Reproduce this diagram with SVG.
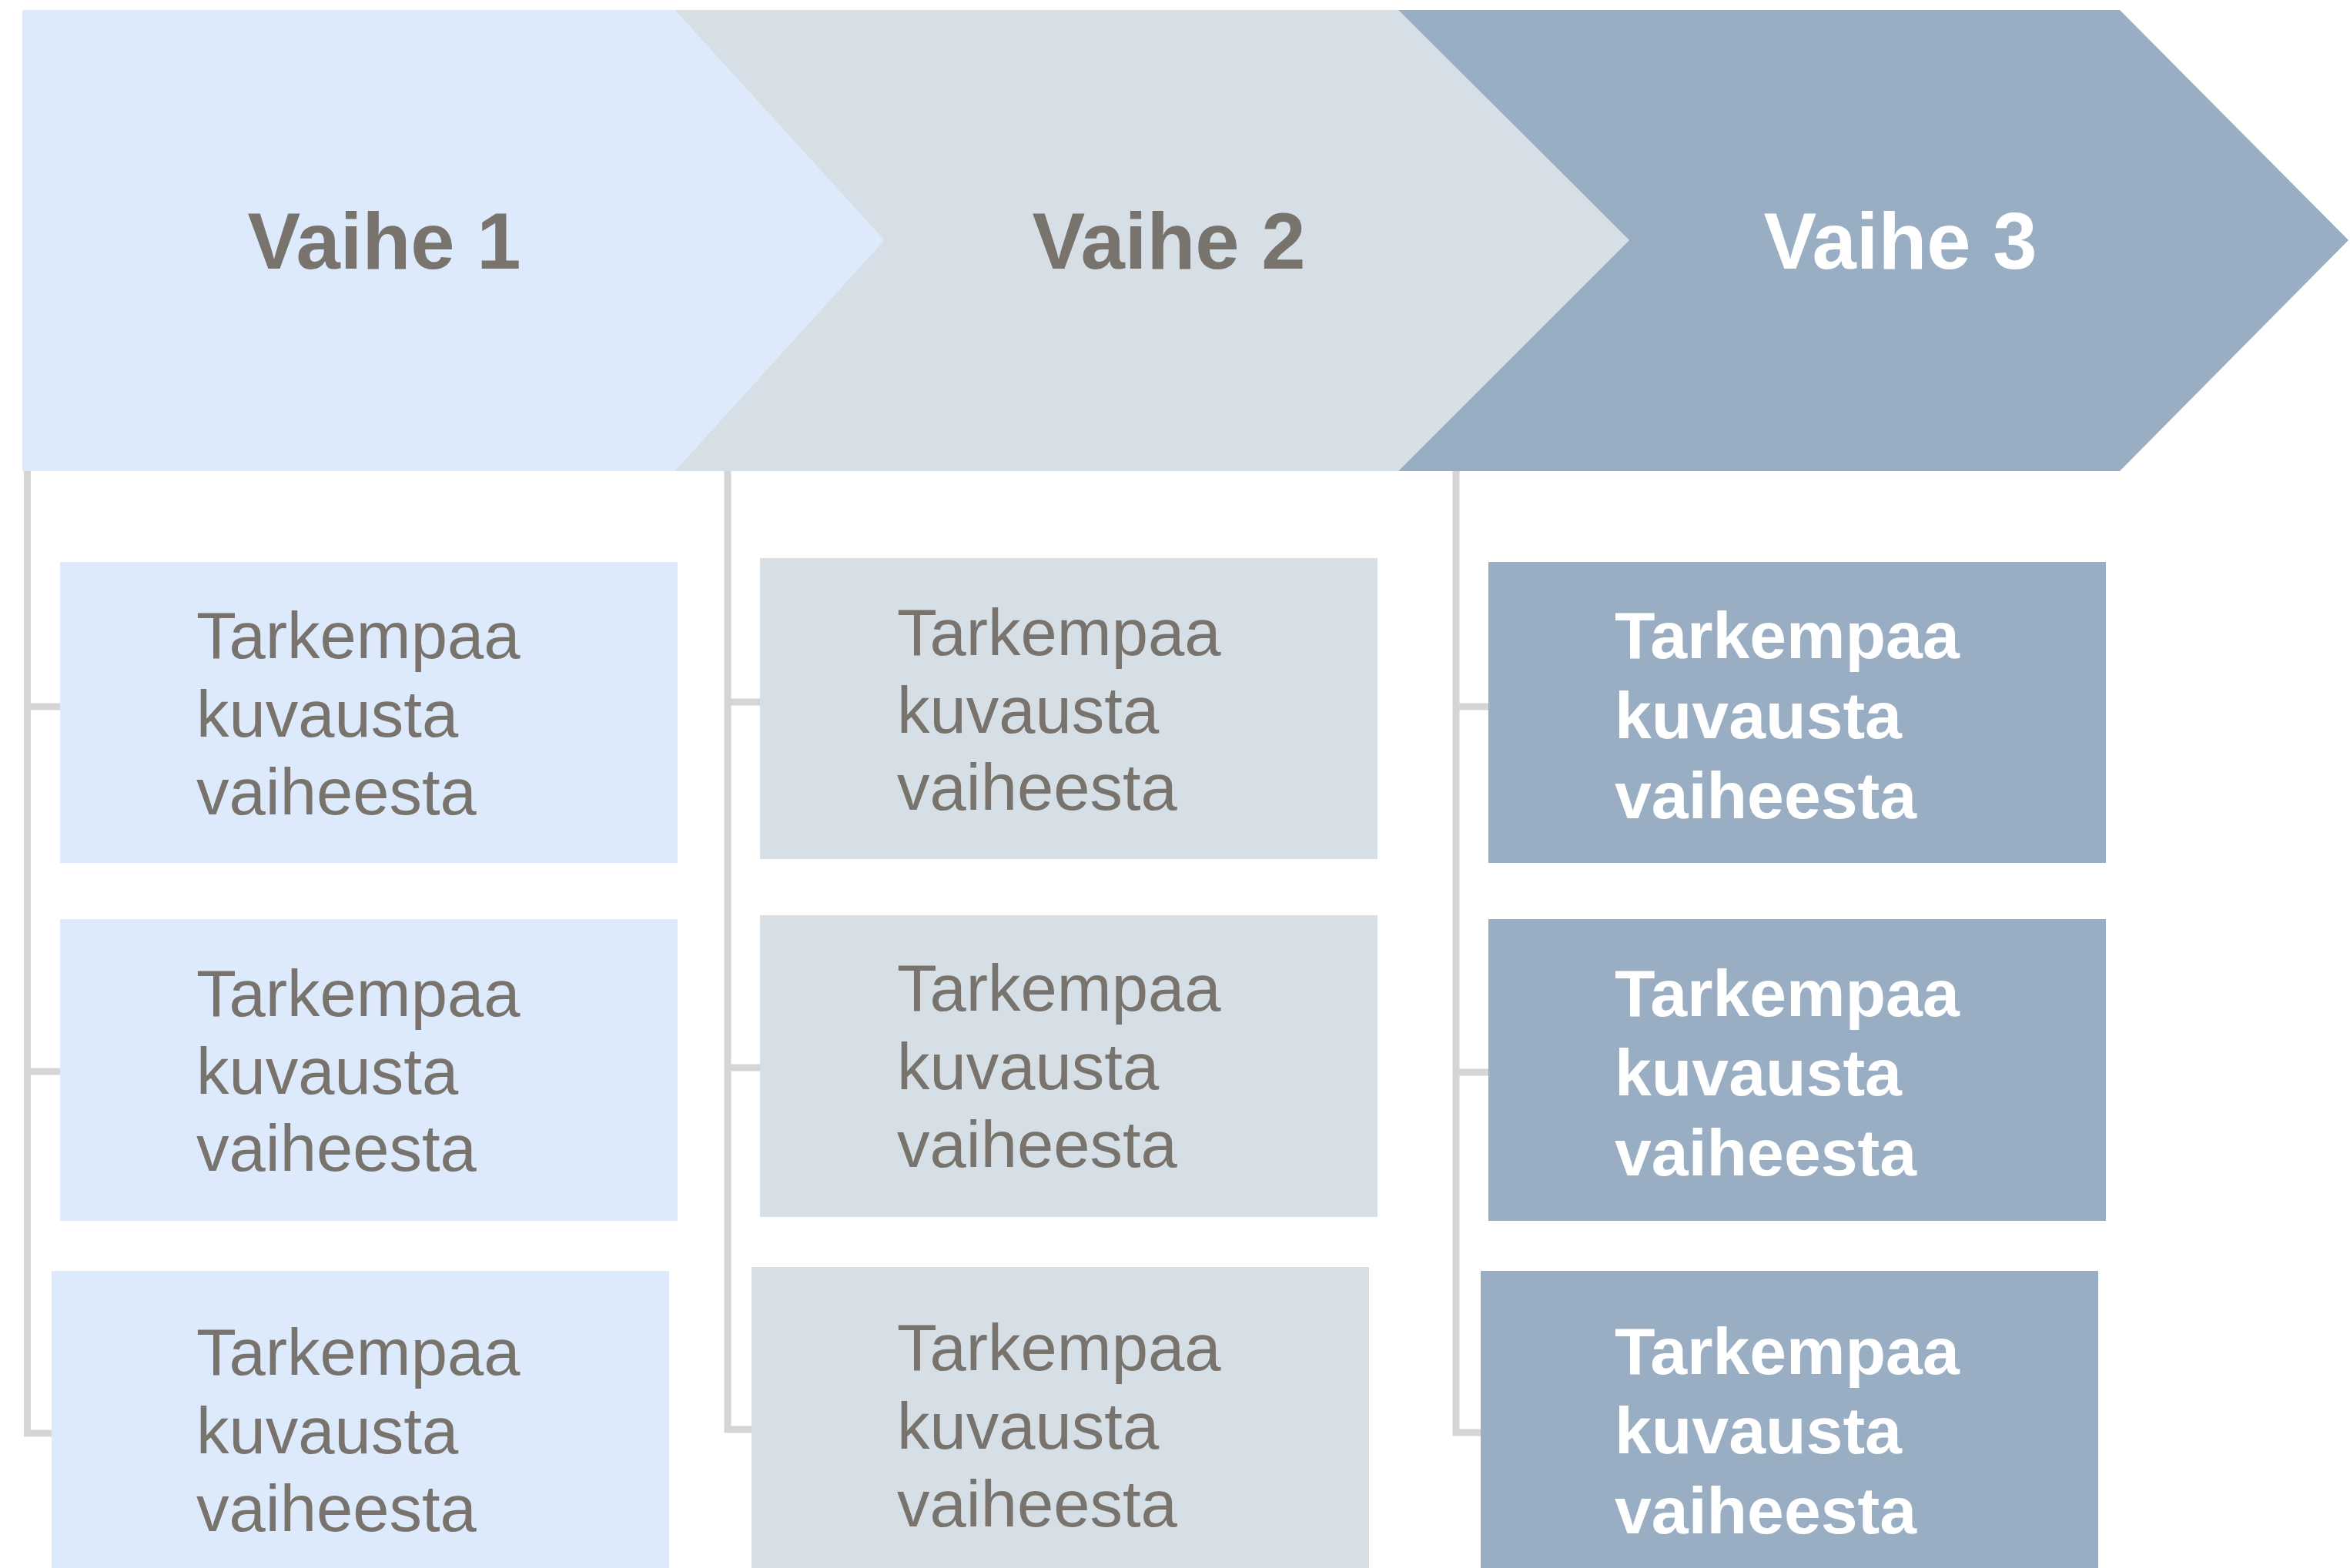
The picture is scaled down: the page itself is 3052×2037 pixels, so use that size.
<svg xmlns="http://www.w3.org/2000/svg" width="3052" height="2037" viewBox="0 0 3052 2037">
<style>
.c1{fill:#DCEAFB}
.c2{fill:#D6DFE6}
.c3{fill:#99AEC3}
.title{font-family:"Liberation Sans",Arial,sans-serif;font-weight:bold;font-size:103px;text-anchor:middle}
.gray{fill:#79736E}
.white{fill:#FFFFFF}
.desc{font-family:"Liberation Sans",Arial,sans-serif;font-size:85px;fill:#79736E}
.descb{font-family:"Liberation Sans",Arial,sans-serif;font-size:86px;font-weight:bold;fill:#FFFFFF}
.conn{fill:none;stroke:#D5D5D5;stroke-width:9}
</style>
<rect width="3052" height="2037" fill="#FFFFFF"/>
<g id="connectors">
<path class="conn" d="M35.5,611 V1862 H67"/>
<path class="conn" d="M40,918 H78 M40,1392 H78"/>
<path class="conn" d="M945,606 V1857 H976"/>
<path class="conn" d="M949,912 H987 M949,1387 H987"/>
<path class="conn" d="M1891,612 V1861 H1923"/>
<path class="conn" d="M1895,918 H1933 M1895,1393 H1933"/>
</g>
<g id="phase2">
<polygon class="c2" points="876,13 1816,13 2116,312 1816,612 876,612 1148,312"/>
<text class="title gray" x="1518" y="349">Vaihe 2</text>
</g>
<g id="phase3">
<polygon class="c3" points="1816,13 2753,13 3050,312 2753,612 1816,612 2116,312"/>
<text class="title white" x="2468" y="349">Vaihe 3</text>
</g>
<g id="phase1">
<polygon class="c1" points="29,13 876,13 1148,312 876,612 29,612"/>
<text class="title gray" x="499" y="349">Vaihe 1</text>
</g>
<g id="p1-box1">
<rect class="c1" x="78" y="730" width="802" height="391"/>
<text class="desc" x="255" y="855">Tarkempaa<tspan x="255" y="957">kuvausta</tspan><tspan x="255" y="1058">vaiheesta</tspan></text>
</g>
<g id="p1-box2">
<rect class="c1" x="78" y="1194" width="802" height="392"/>
<text class="desc" x="255" y="1320">Tarkempaa<tspan x="255" y="1421">kuvausta</tspan><tspan x="255" y="1521">vaiheesta</tspan></text>
</g>
<g id="p1-box3">
<rect class="c1" x="67" y="1651" width="802" height="386"/>
<text class="desc" x="255" y="1786">Tarkempaa<tspan x="255" y="1888">kuvausta</tspan><tspan x="255" y="1989">vaiheesta</tspan></text>
</g>
<g id="p2-box1">
<rect class="c2" x="987" y="725" width="802" height="391"/>
<text class="desc" x="1165" y="851">Tarkempaa<tspan x="1165" y="952">kuvausta</tspan><tspan x="1165" y="1052">vaiheesta</tspan></text>
</g>
<g id="p2-box2">
<rect class="c2" x="987" y="1189" width="802" height="392"/>
<text class="desc" x="1165" y="1313">Tarkempaa<tspan x="1165" y="1415">kuvausta</tspan><tspan x="1165" y="1516">vaiheesta</tspan></text>
</g>
<g id="p2-box3">
<rect class="c2" x="976" y="1646" width="802" height="391"/>
<text class="desc" x="1165" y="1780">Tarkempaa<tspan x="1165" y="1882">kuvausta</tspan><tspan x="1165" y="1983">vaiheesta</tspan></text>
</g>
<g id="p3-box1">
<rect class="c3" x="1933" y="730" width="802" height="391"/>
<text class="descb" x="2097" y="855">Tarkempaa<tspan x="2097" y="959">kuvausta</tspan><tspan x="2097" y="1063">vaiheesta</tspan></text>
</g>
<g id="p3-box2">
<rect class="c3" x="1933" y="1194" width="802" height="392"/>
<text class="descb" x="2097" y="1320">Tarkempaa<tspan x="2097" y="1423">kuvausta</tspan><tspan x="2097" y="1527">vaiheesta</tspan></text>
</g>
<g id="p3-box3">
<rect class="c3" x="1923" y="1651" width="802" height="386"/>
<text class="descb" x="2097" y="1785">Tarkempaa<tspan x="2097" y="1888">kuvausta</tspan><tspan x="2097" y="1992">vaiheesta</tspan></text>
</g>
</svg>
